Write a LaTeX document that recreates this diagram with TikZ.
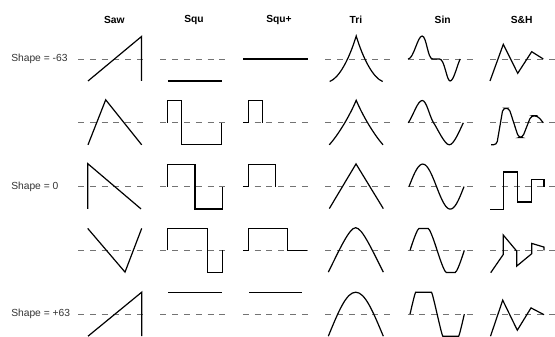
\documentclass[tikz,border=0pt]{standalone}
\usepackage{fontspec}
\setmainfont{Liberation Sans}
\usepackage{tikz}
\usetikzlibrary{calc}
\tikzset{
  wave/.style    = {draw=black, line width=0.9pt},
  zero/.style    = {draw=black!55, line width=0.7pt, dash pattern=on 4.5pt off 4.35pt},
  colhead/.style = {font=\fontsize{7.7}{9}\selectfont\bfseries, inner sep=0pt},
  rowhead/.style = {font=\fontsize{7.7}{9}\selectfont, text=black!80,
                    anchor=west, inner sep=0pt},
  cell/.style 2 args = {shift={({78+82.4*(#1-1)},{277-63.8*(#2-1)})}},
}

\begin{document}
\begin{tikzpicture}[x=0.75pt, y=0.75pt]
  \useasboundingbox (0,0) rectangle (555,336);

  % column and row titles
  \foreach \xx/\name/\lab in {114.3/saw/Saw, 194/squ/Squ, 279/squp/Squ+,
                              356/tri/Tri, 442.7/sin/Sin, 521.7/sh/S\&H}
    \node[colhead] (head-\name) at (\xx,316) {\lab};
  \node[rowhead] (shape-neg) at (11,277)  {Shape = -63};
  \node[rowhead] (shape-mid) at (11,149.4) {Shape = 0};
  \node[rowhead] (shape-pos) at (11,21.8)  {Shape = +63};

  % zero lines
  \foreach \r in {1,...,5}
    \foreach \c in {1,...,6}
      \draw[zero, cell={\c}{\r}] (0,0) -- (65,0);

  % Saw
  \draw[wave, cell={1}{1}] (10,-22) -- (63.5,22.5) -- (63.5,-22);
  \draw[wave, cell={1}{2}] (10,-22) -- (27.7,23) -- (63.7,-22);
  \draw[wave, cell={1}{3}] (9.7,-22.3) -- (9.7,23) -- (63,-22.3);
  \draw[wave, cell={1}{4}] (9.7,22) -- (47,-21.7) -- (63.7,22);
  \draw[wave, cell={1}{5}] (10,-22) -- (63.7,22) -- (63.7,-22);

  % Squ
  \draw[wave, cell={2}{1}] (7.5,-22) -- (61.5,-22);
  \draw[wave, cell={2}{2}] (7,0) -- (7,22) -- (21.3,22) -- (21.3,-22) -- (61.3,-22) -- (61.3,0);
  \draw[wave, cell={2}{3}] (7,0) -- (7,22) -- (34.6,22) -- (34.6,-22.3) -- (62,-22.3) -- (62,0);
  \draw[wave, cell={2}{4}] (7.3,0) -- (7.3,21.7) -- (46.9,21.7) -- (46.9,-22.3) -- (61.9,-22.3) -- (61.9,0);
  \draw[wave, cell={2}{5}] (7.9,21.5) -- (61.3,21.5);

  % Squ+
  \draw[wave, cell={3}{1}] (0.5,0) -- (64.9,0);
  \draw[wave, cell={3}{2}] (0.5,0) -- (5.5,0) -- (5.5,22) -- (19.5,22) -- (19.5,0);
  \draw[wave, cell={3}{3}] (0.5,0) -- (5.5,0) -- (5.5,22) -- (33,22) -- (33,0);
  \draw[wave, cell={3}{4}] (0.5,0) -- (5.5,0) -- (5.5,21.7) -- (44.5,21.7) -- (44.5,0) -- (64,0);
  \draw[wave, cell={3}{5}] (6.5,21.5) -- (59.5,21.5);

  % Tri
  \draw[wave, cell={4}{1}] (4.5,-22.5) .. controls (14,-19) and (24,0) .. (31,23)
                           .. controls (38,0) and (48,-19) .. (57.5,-22.5);
  \draw[wave, cell={4}{2}] (4.1,-22) .. controls (13,-12) and (24,6) .. (31,22.5)
                           .. controls (38,6) and (49,-12) .. (57.8,-22);
  \draw[wave, cell={4}{3}] (4.1,-22) -- (30.8,22.7) -- (58.1,-22);
  \draw[wave, cell={4}{4}] (3.1,-21.7) .. controls (14,0) and (24,22.7) .. (30.5,22.7)
                           .. controls (37,22.7) and (47,0) .. (58.1,-21.7);
  \draw[wave, cell={4}{5}] (3.1,-22) .. controls (13,2) and (21,22) .. (30.5,22)
                           .. controls (40,22) and (48,2) .. (58.1,-22);

  % Sin
  \draw[wave, cell={5}{1}] (0.5,0) .. controls (6,0) and (10,23) .. (14.5,23)
                           .. controls (19,23) and (20,0) .. (25,0) -- (32,0)
                           .. controls (37,0) and (39,-22) .. (42.5,-22)
                           .. controls (46,-22) and (49,-8) .. (52.5,0);
  \draw[wave, cell={5}{2}] (0.7,0) .. controls (6,8) and (10,22.3) .. (14.7,22.3)
                           .. controls (19,22.3) and (22,6) .. (26,0)
                           .. controls (30,-6) and (37,-22) .. (41.7,-22)
                           .. controls (46,-22) and (51,-10) .. (55.7,0);
  \draw[wave, cell={5}{3}] plot[domain=0:360, samples=73, smooth]
                           ({1.4+\x/360*55},{22.5*sin(\x)});
  \draw[wave, cell={5}{4}] plot[domain=0:360, samples=37, smooth]
                           ({2.4+\x/360*54.3},{22*max(-1,min(1,1.2*sin(\x)))});
  \draw[wave, cell={5}{5}] plot[domain=0:360, samples=49, smooth]
                           ({2.4+\x/360*54.3},{22*max(-1,min(1,1.7*sin(\x)))});

  % S&H
  \draw[wave, cell={6}{1}] (0,-22) -- (13.3,14.7) -- (27.7,-14.3) -- (41.7,7.3) -- (53.3,0);
  \draw[wave, cell={6}{2}, rounded corners=2.5pt] (1,-22) -- (6.7,-22) -- (13,14.7) -- (19,14.7)
                           -- (28.5,-14.7) -- (32.5,-14.7) -- (41,7) -- (47.5,7) -- (53.3,0);
  \draw[wave, cell={6}{3}] (0,-23) -- (13.3,-23) -- (13.3,14.7) -- (27.7,14.7) -- (27.7,-15.3)
                           -- (41.7,-15.3) -- (41.7,7) -- (54,7) -- (54,0);
  \draw[wave, cell={6}{4}] (0.7,-22.3) -- (13.3,-4) -- (13.3,15.3) -- (26.7,-0.7) -- (26.7,-15.7)
                           -- (41.7,-3.3) -- (41.7,7) -- (54,3.3) -- (54,0);
  \draw[wave, cell={6}{5}] (0.5,-22) -- (12.7,14) -- (27.3,-16) -- (41,6.3) -- (54,-0.5);
\end{tikzpicture}
\end{document}
